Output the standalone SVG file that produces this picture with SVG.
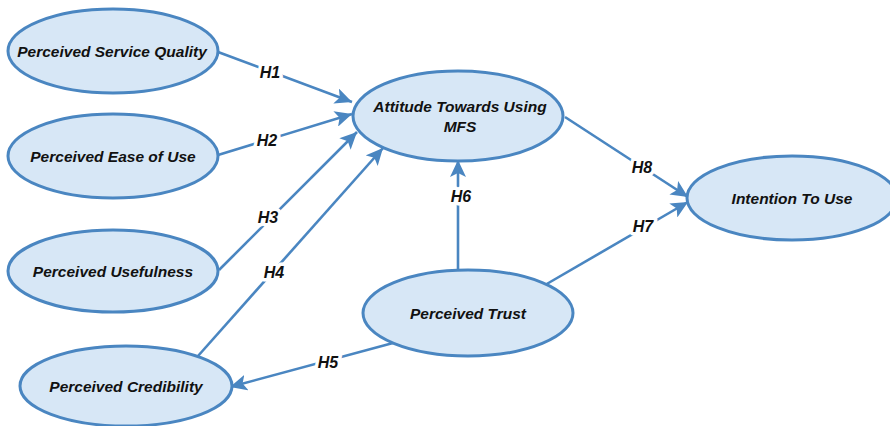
<svg xmlns="http://www.w3.org/2000/svg" width="890" height="426" viewBox="0 0 890 426">
<style>
.node ellipse{fill:#d7e7f6;stroke:#4a86c1;stroke-width:3}
.node text{font-family:"Liberation Sans",Arial,sans-serif;font-weight:bold;font-style:italic;font-size:15.5px;fill:#111;text-anchor:middle}
.edge line{stroke:#4a86c1;stroke-width:2.6;marker-end:url(#arr)}
.lbl{font-family:"Liberation Sans",Arial,sans-serif;font-weight:bold;font-style:italic;font-size:16px;fill:#111;text-anchor:middle;stroke:#fff;stroke-width:7;paint-order:stroke;stroke-linejoin:round}
</style>
<defs>
<marker id="arr" markerUnits="userSpaceOnUse" markerWidth="18" markerHeight="16" viewBox="0 0 18 16" refX="17" refY="8" orient="auto">
<path d="M0,0 L17,8 L0,16 L4,8 z" fill="#4a86c1"/>
</marker>
</defs>
<rect width="890" height="426" fill="#fff"/>
<g id="connectors" class="edge">
<line x1="218" y1="52" x2="352" y2="102"/>
<line x1="218" y1="155" x2="352" y2="114"/>
<line x1="219" y1="270" x2="357" y2="132"/>
<line x1="198" y1="356" x2="383" y2="148"/>
<line x1="393" y1="343" x2="230" y2="387"/>
<line x1="458" y1="270" x2="458" y2="160"/>
<line x1="545" y1="285" x2="688" y2="202"/>
<line x1="565" y1="117" x2="688" y2="197"/>
<text class="lbl" x="270" y="78">H1</text>
<text class="lbl" x="267" y="146">H2</text>
<text class="lbl" x="268" y="223">H3</text>
<text class="lbl" x="274" y="278">H4</text>
<text class="lbl" x="328" y="368">H5</text>
<text class="lbl" x="461" y="202">H6</text>
<text class="lbl" x="643" y="232">H7</text>
<text class="lbl" x="642" y="173">H8</text>
</g>
<g id="psq" class="node"><ellipse cx="113" cy="51" rx="105" ry="42"/><text x="112" y="57">Perceived Service Quality</text></g>
<g id="peu" class="node"><ellipse cx="113" cy="156" rx="105" ry="42"/><text x="113" y="162">Perceived Ease of Use</text></g>
<g id="pu" class="node"><ellipse cx="113" cy="271" rx="105" ry="41"/><text x="113" y="277">Perceived Usefulness</text></g>
<g id="pc" class="node"><ellipse cx="126" cy="386" rx="106" ry="40"/><text x="126" y="392">Perceived Credibility</text></g>
<g id="atu" class="node"><ellipse cx="458" cy="116" rx="105" ry="45"/><text x="460" y="112">Attitude Towards Using</text><text x="460" y="132">MFS</text></g>
<g id="pt" class="node"><ellipse cx="468" cy="313" rx="105" ry="43"/><text x="468" y="319">Perceived Trust</text></g>
<g id="itu" class="node"><ellipse cx="792" cy="198" rx="105" ry="42"/><text x="792" y="204">Intention To Use</text></g>
</svg>
